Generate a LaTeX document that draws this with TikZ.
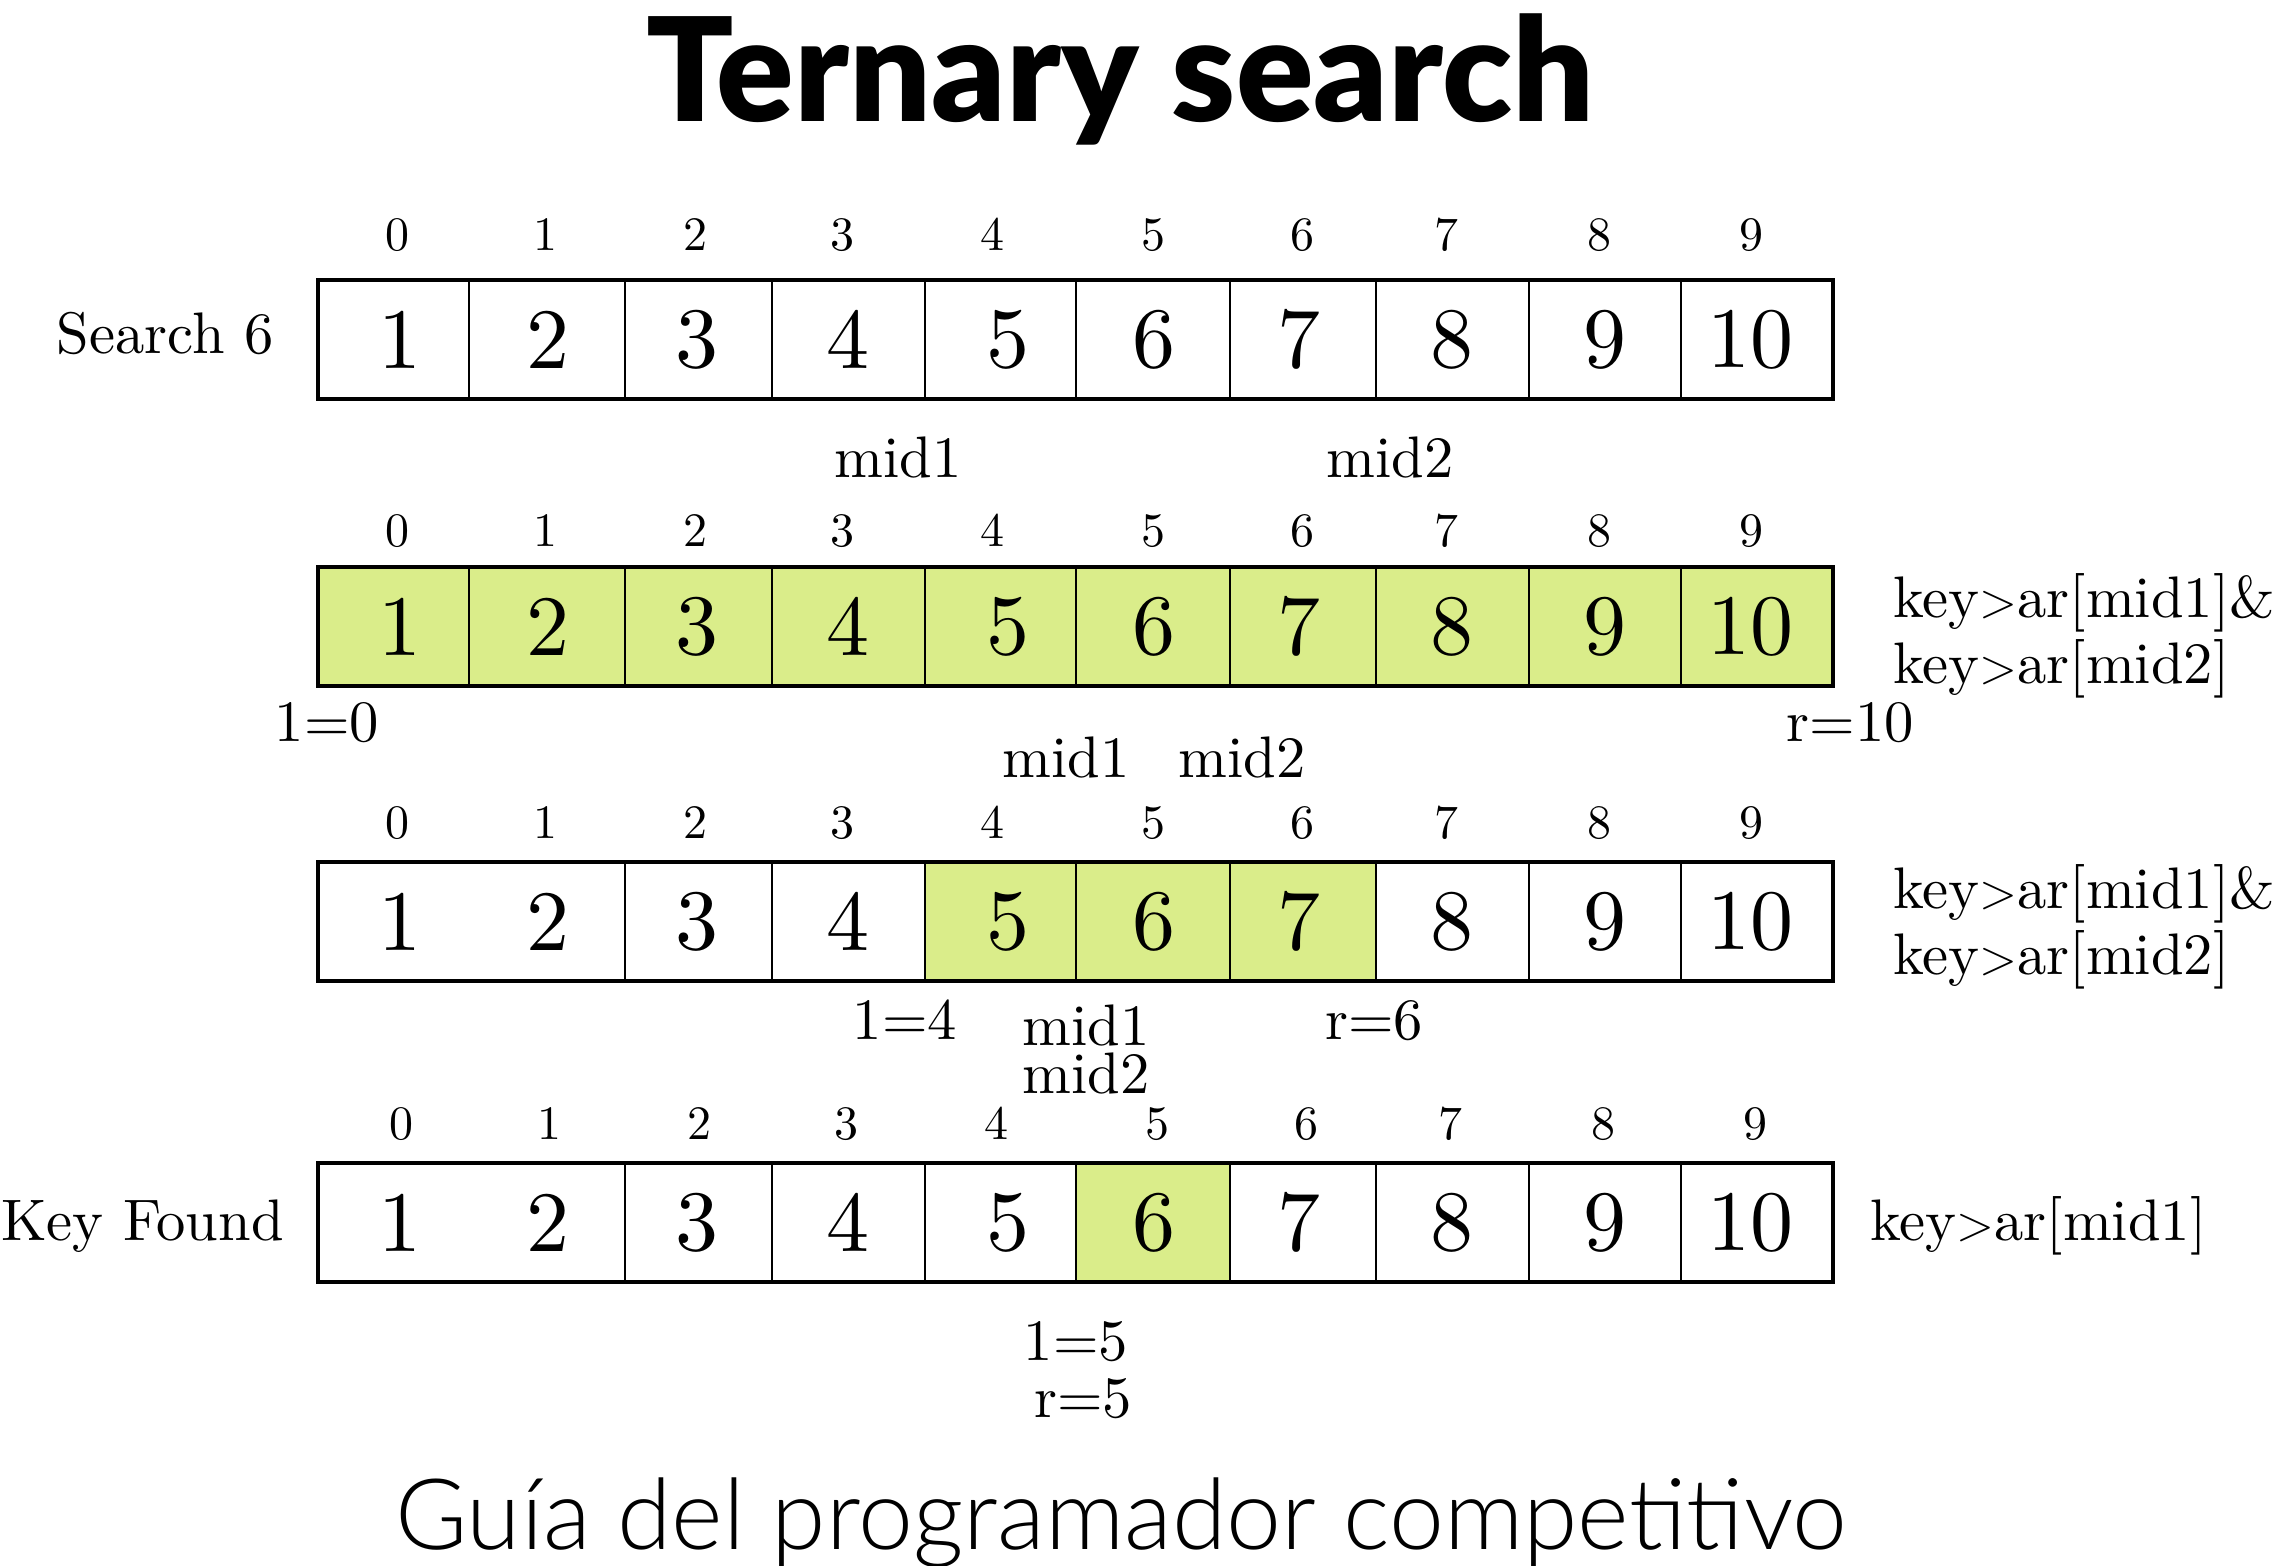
\documentclass[tikz,border=0pt]{standalone}
\usepackage{fontspec}
\setmainfont{lmroman10-regular.otf}
\newfontfamily\titlefont{Lato Black}
\newfontfamily\footfont{Lato Light}
\definecolor{hit}{HTML}{DAED8A}
\tikzset{
  every cell/.style={inner sep=0pt, font=\fontsize{43}{43}\selectfont},
  every index/.style={inner sep=0pt, anchor=base, font=\fontsize{24}{24}\selectfont},
  every note/.style={inner sep=0pt, font=\fontsize{29.3}{33}\selectfont},
  box edge/.style={line width=2pt},
  cell edge/.style={line width=1.3pt},
}
\begin{document}
\begin{tikzpicture}[x=0.5pt, y=-0.5pt]
\useasboundingbox (0,0) rectangle (2281,1566);
% highlighted parts of rows 2, 3 and 4
\fill [hit] (318,567) rectangle (1833,686);
\fill [hit] (925,862) rectangle (1376,981);
\fill [hit] (1076,1163) rectangle (1230,1282);
\foreach \y/\b/\s [count=\r] in {280/251/0, 567/547/0, 862/838/0, 1163/1139/4} {
  \foreach \x/\u [count=\i] in {400/397, 548/545.5, 697/695, 848/842, 1008/992,
                                1154/1153.5, 1299/1302, 1452/1446, 1605/1599, 1750/1751} {
    \pgfmathtruncatemacro\k{\i-1}
    \node [every index] (index\r-\k) at (\u+\s,\b) {\k};
    \node [every cell] (value\r-\k) at (\x,\y+59.5) {\i};
  }
  \draw [box edge] (318,\y) rectangle (1833,\y+119);
}
\foreach \y in {280,567}
  \foreach \e in {469,625,772,925,1076,1230,1376,1529,1681}
    \draw [cell edge] (\e,\y) -- (\e,\y+119);
\foreach \y in {862,1163}
  \foreach \e in {625,772,925,1076,1230,1376,1529,1681}
    \draw [cell edge] (\e,\y) -- (\e,\y+119);
% labels
\node [every note, anchor=base east] (search) at (274,354) {Search 6};
\node [every note, anchor=base east] (found) at (284,1240) {Key Found};
\node [every note, anchor=base] (mid1-a) at (898,478) {mid1};
\node [every note, anchor=base] (mid2-a) at (1390,478) {mid2};
\node [every note, anchor=base] (left-a) at (327,742) {1=0};
\node [every note, anchor=base] (right-a) at (1850,742) {r=10};
\node [every note, anchor=base] (mid1-b) at (1066,777) {mid1};
\node [every note, anchor=base] (mid2-b) at (1242,777) {mid2};
\node [every note, anchor=base] (left-b) at (905,1039) {1=4};
\node [every note, anchor=base] (right-b) at (1374,1039) {r=6};
\node [every note, anchor=base] (mid1-c) at (1086,1045) {mid1};
\node [every note, anchor=base] (mid2-c) at (1086,1093) {mid2};
\node [every note, anchor=base] (left-c) at (1076,1360) {1=5};
\node [every note, anchor=base] (right-c) at (1083,1417) {r=5};
\node [every note, anchor=base west] (test2-1) at (1893,618) {key$>$ar[mid1]\&};
\node [every note, anchor=base west] (test2-2) at (1893,684) {key$>$ar[mid2]};
\node [every note, anchor=base west] (test3-1) at (1893,908) {key$>$ar[mid1]\&};
\node [every note, anchor=base west] (test3-2) at (1893,974) {key$>$ar[mid2]};
\node [every note, anchor=base west] (test4) at (1870,1240) {key$>$ar[mid1]};
% title and footer
\node [inner sep=0pt, anchor=base, font=\titlefont\fontsize{72}{72}\selectfont] (title) at (1120,122) {Ternary search};
\node [inner sep=0pt, anchor=base, font=\footfont\fontsize{49.3}{49.3}\selectfont] (footer) at (1121,1549) {Guía del programador competitivo};
\end{tikzpicture}
\end{document}
